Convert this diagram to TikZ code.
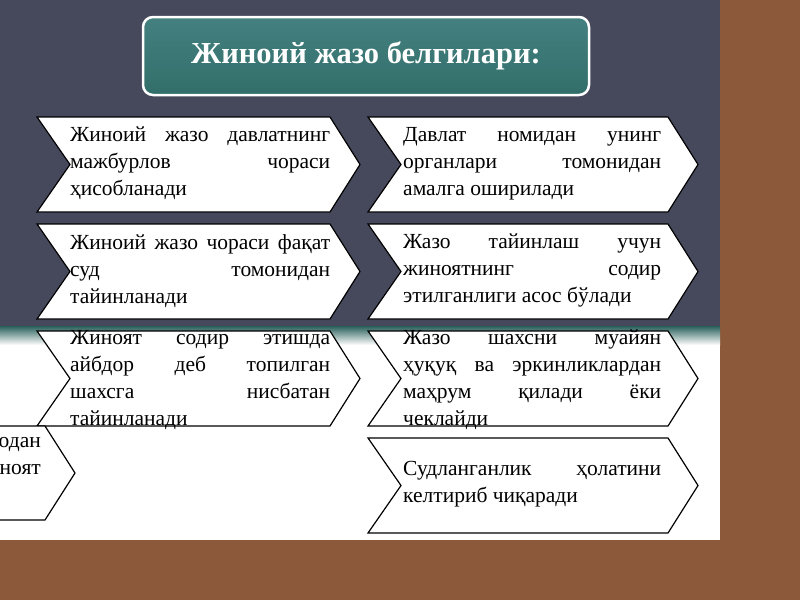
\documentclass[tikz,border=0pt]{standalone}
\usepackage{fontspec}
\setmainfont{Liberation Serif}
\begin{document}
\begin{tikzpicture}[x=1pt,y=-1pt,
  chev/.style={draw=black,line width=1.2pt,fill=white},
  txt/.style={anchor=north west,text width=260pt,align=justify,inner sep=0pt,font=\fontsize{21.5}{27}\selectfont,text=black},
]
\useasboundingbox (0,0) rectangle (800,600);
\fill[white] (0,0) rectangle (800,600);
\fill[fill={rgb,255:red,140;green,90;blue,58}] (720,0) rectangle (800,600);
\fill[fill={rgb,255:red,140;green,90;blue,58}] (0,540) rectangle (800,600);
\fill[fill={rgb,255:red,70;green,73;blue,92}] (0,0) rectangle (720,326);
\shade[top color={rgb,255:red,40;green,95;blue,90}, bottom color=white] (0,326) rectangle (720,345);
% title
\node[draw=white,line width=2.5pt,rounded corners=10pt,
  top color={rgb,255:red,68;green,128;blue,128},bottom color={rgb,255:red,50;green,110;blue,105},
  minimum width=446pt,minimum height=78pt,text=white,
  font=\bfseries\fontsize{30.5}{34}\selectfont] (title) at (366,56) {Жиноий жазо белгилари:};
% left column chevrons
\foreach \y in {117,224,331}{
  \draw[chev] (37,\y) -- (330,\y) -- (360,\y+47.5) -- (330,\y+95) -- (37,\y+95) -- (70,\y+47.5) -- cycle;}
\draw[chev] (-5,426) -- (45,426) -- (75,473) -- (45,520) -- (-5,520);
\foreach \y in {117,224,331,438}{
  \draw[chev] (368,\y) -- (668,\y) -- (698,\y+47.5) -- (668,\y+95) -- (368,\y+95) -- (401,\y+47.5) -- cycle;}
\node[txt] (l1) at (70,127) {Жиноий жазо давлатнинг\linebreak мажбурлов чораси\linebreak ҳисобланади};
\node[txt] (l2) at (70,234) {Жиноий жазо чораси фақат\linebreak суд томонидан\linebreak тайинланади};
\node[txt] (l3) at (70,330) {Жиноят содир этишда\linebreak айбдор деб топилган\linebreak шахсга нисбатан\linebreak тайинланади};
\node[anchor=north east,align=right,inner sep=0pt,font=\fontsize{21.5}{27}\selectfont] (l4) at (41,437) {одан\\ноят};
\node[txt,text width=258pt] (r1) at (403,127) {Давлат номидан унинг\linebreak органлари томонидан\linebreak амалга оширилади};
\node[txt,text width=258pt] (r2) at (403,234) {Жазо тайинлаш учун\linebreak жиноятнинг содир\linebreak этилганлиги асос бўлади};
\node[txt,text width=258pt] (r3) at (403,330) {Жазо шахсни муайян\linebreak ҳуқуқ ва эркинликлардан\linebreak маҳрум қилади ёки\linebreak чеклайди};
\node[txt,text width=258pt] (r4) at (403,461) {Судланганлик ҳолатини\linebreak келтириб чиқаради};
\end{tikzpicture}
\end{document}
